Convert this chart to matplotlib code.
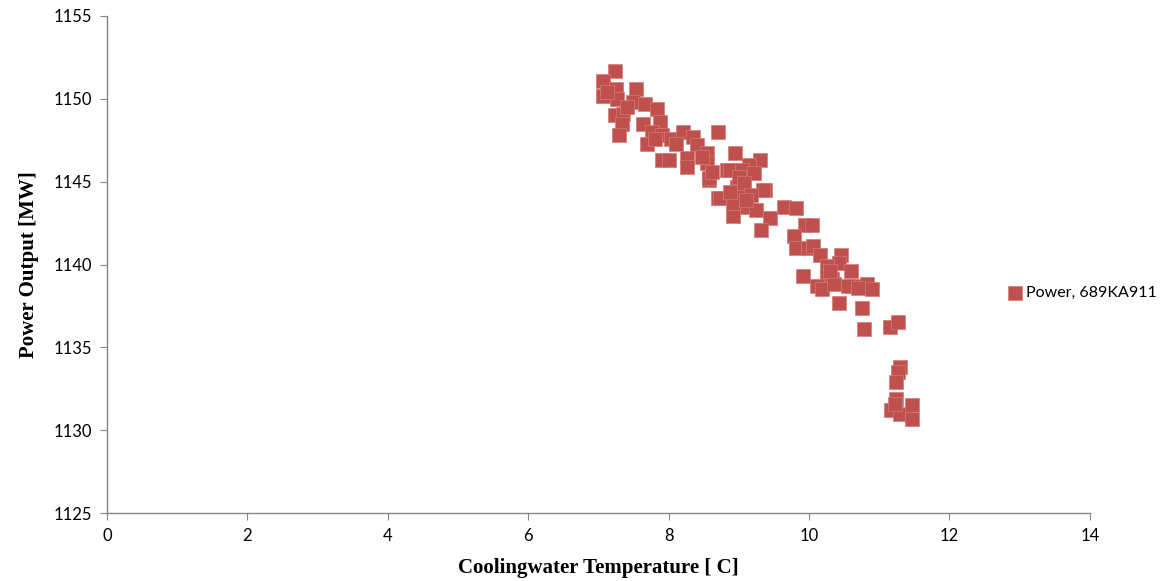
import matplotlib
matplotlib.use("Agg")
import matplotlib.pyplot as plt

# coolingwater temperature [C] and power output [MW]
temp = [7.23, 7.06, 7.25, 7.06, 7.26, 7.54, 7.49, 7.66, 7.84, 7.23,
        7.35, 7.33, 7.63, 7.87, 7.29, 7.76, 7.90, 7.69, 8.04, 8.21,
        8.70, 8.34, 8.40, 7.91, 8.00, 8.26, 8.26, 8.54, 8.54, 8.94,
        9.30, 8.57, 8.71, 8.83, 9.15, 9.37, 8.91, 9.44, 8.58, 8.73,
        8.87, 9.05, 9.22, 8.97, 9.34, 9.01, 8.91, 9.11, 9.25, 9.32,
        9.65, 9.82, 9.94, 10.04, 9.79, 9.82, 9.98, 10.05, 10.15, 10.46,
        10.43, 10.25, 10.60, 9.91, 10.26, 10.33, 10.11, 10.19, 10.36, 10.62,
        10.83, 10.90, 10.42, 10.76, 10.55, 10.78, 11.15, 11.27, 11.29, 11.26,
        11.24, 11.24, 11.17, 11.29, 11.46, 11.46, 11.22, 7.40, 7.12, 8.10,
        8.48, 8.62, 9.00, 9.08, 9.18, 10.30, 10.70, 7.80, 8.88, 9.10]
power = [1151.7, 1151.1, 1150.6, 1150.2, 1150.0, 1150.6, 1149.8, 1149.7, 1149.4, 1149.0,
         1149.1, 1148.5, 1148.5, 1148.6, 1147.8, 1148.0, 1147.8, 1147.3, 1147.6, 1148.0,
         1148.0, 1147.7, 1147.2, 1146.3, 1146.3, 1146.4, 1145.9, 1146.7, 1146.1, 1146.7,
         1146.3, 1145.1, 1144.0, 1145.7, 1146.0, 1144.5, 1142.9, 1142.8, 1145.2, 1144.0,
         1145.7, 1145.7, 1145.5, 1144.7, 1144.5, 1144.1, 1143.7, 1143.5, 1143.3, 1142.1,
         1143.5, 1143.4, 1142.4, 1142.4, 1141.7, 1141.0, 1141.0, 1141.1, 1140.6, 1140.6,
         1140.1, 1139.9, 1139.6, 1139.3, 1139.3, 1139.1, 1138.7, 1138.5, 1138.8, 1138.7,
         1138.8, 1138.5, 1137.7, 1137.4, 1138.7, 1136.1, 1136.2, 1136.5, 1133.8, 1133.5,
         1132.9, 1131.9, 1131.2, 1131.0, 1131.5, 1130.7, 1131.6, 1149.5, 1150.4, 1147.3,
         1146.5, 1145.6, 1145.3, 1144.9, 1144.2, 1139.6, 1138.6, 1147.6, 1144.4, 1143.9]

x_ticks = [0, 2, 4, 6, 8, 10, 12, 14]
y_ticks = [1125, 1130, 1135, 1140, 1145, 1150, 1155]

fig = plt.figure(figsize=(11.7, 5.81), dpi=100)
ax = fig.add_axes([0.0915, 0.117, 0.84, 0.8555])

ax.scatter(temp, power, marker='s', s=90, color='#C0504D',
           edgecolors='#D27C79', linewidths=0.5, label='Power, 689KA911', zorder=3)

ax.set_xlim(0, 14)
ax.set_ylim(1125, 1155)
ax.set_xticks(x_ticks)
ax.set_yticks(y_ticks)

for side in ['top', 'right']:
    ax.spines[side].set_visible(False)
for side in ['left', 'bottom']:
    ax.spines[side].set_color('#868686')
    ax.spines[side].set_linewidth(1)
ax.tick_params(direction='out', length=5, color='#868686', labelsize=12, pad=6)
for lbl in ax.get_xticklabels() + ax.get_yticklabels():
    lbl.set_fontfamily('Lato')

ax.set_xlabel('Coolingwater Temperature [ C]', family='Liberation Serif',
              fontweight='bold', fontsize=15, labelpad=10)
ax.set_ylabel('Power Output [MW]', family='Liberation Serif',
              fontweight='bold', fontsize=15, labelpad=10)

fig.legend(loc='center left', bbox_to_anchor=(1004 / 1170, 1 - 293 / 581),
           bbox_transform=fig.transFigure, frameon=False,
           prop={'family': 'Lato', 'size': 11.5}, handletextpad=0.0,
           handlelength=1.4, borderaxespad=0, borderpad=0)

fig.savefig('out.png', dpi=100)
